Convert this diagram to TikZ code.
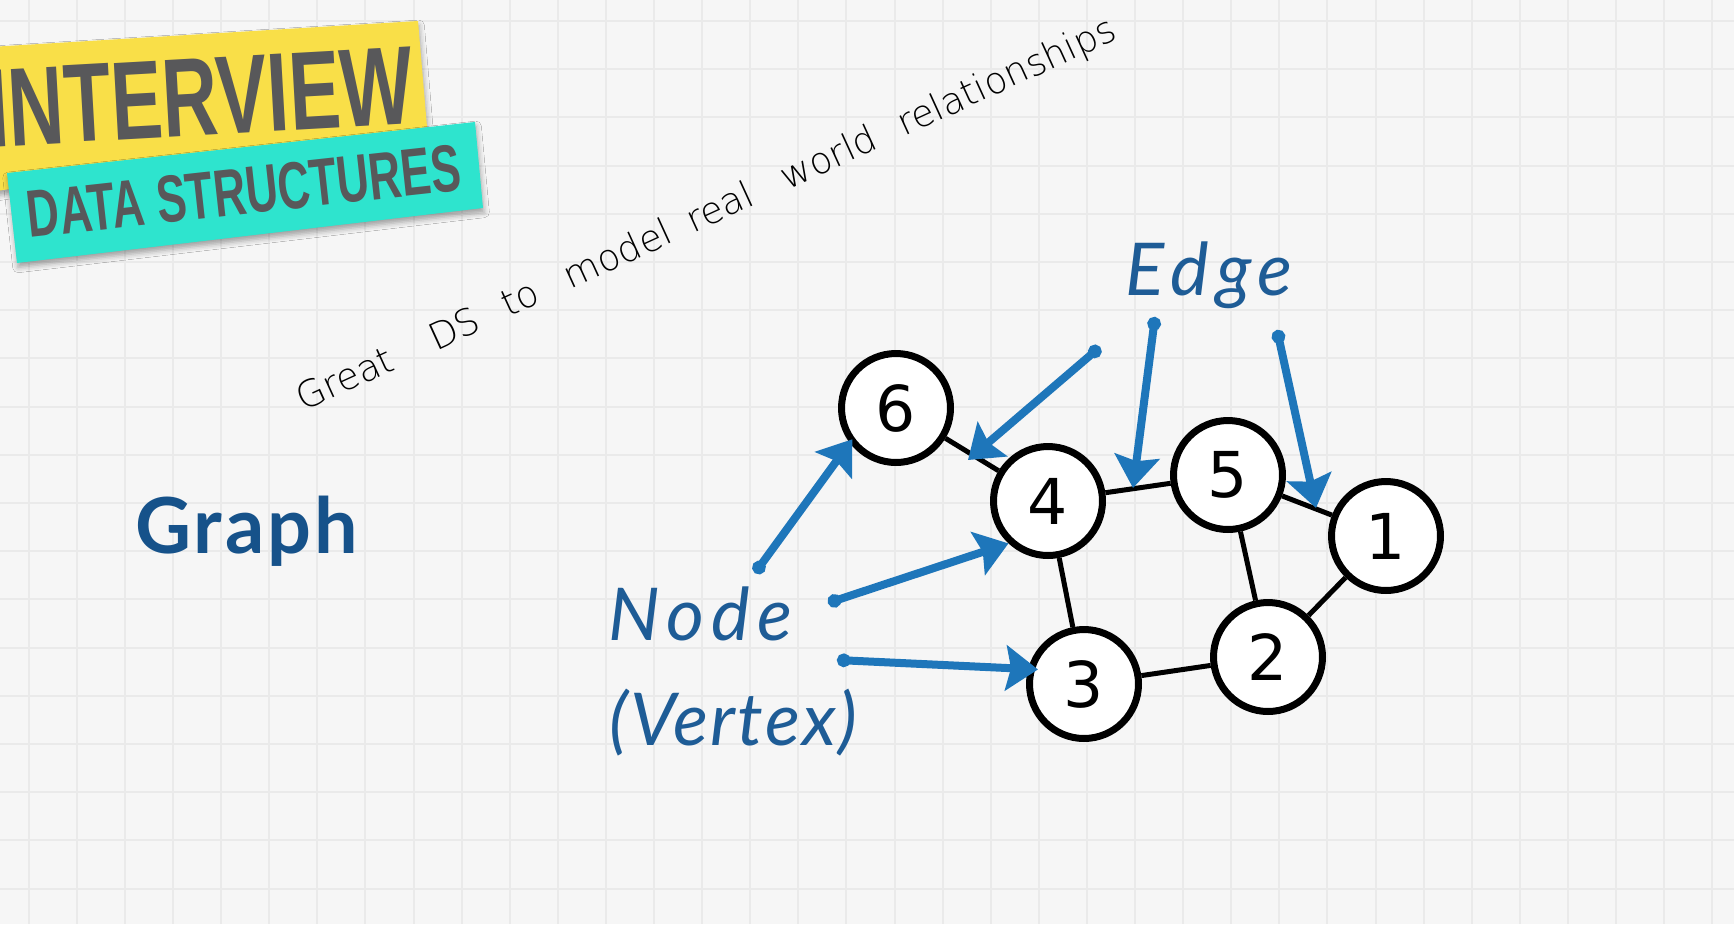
\documentclass[tikz,border=0pt]{standalone}
\usepackage{fontspec}
\usetikzlibrary{arrows.meta,shadows.blur}
\newfontfamily\latofont{Lato}
\newfontfamily\numfont{DejaVu Sans}
\newfontfamily\bannerfont{Liberation Sans}
\newfontfamily\handfont{DejaVu Sans ExtraLight}
\definecolor{paper}{RGB}{246,246,246}
\definecolor{gridcol}{RGB}{234,234,234}
\definecolor{bannerYellow}{RGB}{249,223,72}
\definecolor{bannerTeal}{RGB}{46,228,206}
\definecolor{bannerText}{RGB}{88,88,90}
\definecolor{labelBlue}{RGB}{30,92,150}
\definecolor{titleBlue}{RGB}{22,82,138}
\definecolor{arrowBlue}{RGB}{30,118,186}

\begin{document}
\begin{tikzpicture}[x=0.02cm,y=-0.02cm,
  gridline/.style={draw=gridcol,line width=0.04cm},
  banner/.style={blur shadow={shadow xshift=0.6pt,shadow yshift=-2.5pt,shadow blur radius=3pt,shadow opacity=35}},
  bannertext/.style={inner sep=0pt,text=bannerText,font=\bannerfont\bfseries},
  vertex/.style={circle,draw=black,fill=white,line width=0.14cm,minimum size=2.18cm,inner sep=0pt,
    font=\numfont\fontsize{36}{40}\selectfont},
  link/.style={draw=black,line width=0.1cm},
  pointer/.style={draw=arrowBlue,line width=0.16cm,line cap=round,
    {Circle[length=0.27cm]}-{Stealth[length=0.64cm,width=0.9cm,inset=0.1cm]}},
  caption/.style={anchor=base west,inner sep=0pt,text=labelBlue,
    font=\latofont\itshape\fontsize{41.5}{48}\selectfont\addfontfeatures{LetterSpace=#1}}
]
\useasboundingbox (0,0) rectangle (1734,924);

% squared paper
\fill[paper] (0,0) rectangle (1734,924);
\foreach \i in {0,...,35}
  \draw[gridline] ({28.7+48.1*\i},0) -- ({28.7+48.1*\i},924);
\foreach \j in {0,...,18}
  \draw[gridline] (0,{21+48.2*\j}) -- (1734,{21+48.2*\j});

% title banners
\fill[bannerYellow,banner] (-10,47) -- (418,21) -- (427,127) -- (-10,192) -- cycle;
\node[bannertext,rotate=3.2] (interview) at (200,97)
  {\fontsize{63.5}{70}\selectfont\scalebox{0.69}[1]{INTERVIEW}};
\fill[bannerTeal,banner] (7,173) -- (475,122) -- (483,208) -- (17,263) -- cycle;
\node[bannertext,rotate=6.3] (datastruct) at (244,191)
  {\fontsize{38}{42}\selectfont\scalebox{0.67}[1]{DATA STRUCTURES}};

% handwritten note
\node[anchor=base west,inner sep=0pt,rotate=24.6,font=\handfont\fontsize{21}{24}\selectfont]
  (note) at (303,412)
  {\makebox[2.92cm][l]{Great}\makebox[1.6cm][l]{DS}\makebox[1.36cm][l]{to}%
   \makebox[2.7cm][l]{model}\makebox[2.08cm][l]{real}\makebox[2.56cm][l]{world}relationships};

% title
\node[anchor=base west,inner sep=0pt,text=titleBlue,
  font=\latofont\bfseries\fontsize{44}{50}\selectfont\addfontfeatures{LetterSpace=4}]
  (title) at (135,553) {Graph};

% labels
\node[caption=10] (edgelabel) at (1125,295) {Edge};
\node[caption=10] (nodelabel) at (608,640) {Node};
\node[caption=3] (vertexlabel) at (609,745) {(Vertex)};

% graph vertices
\node[vertex] (n6) at (896,408) {6};
\node[vertex] (n4) at (1048,501) {4};
\node[vertex] (n5) at (1228,475) {5};
\node[vertex] (n1) at (1386,536) {1};
\node[vertex] (n2) at (1268,657) {2};
\node[vertex] (n3) at (1084,684) {3};

% graph edges
\draw[link] (n6) -- (n4);
\draw[link] (n4) -- (n5);
\draw[link] (n5) -- (n1);
\draw[link] (n4) -- (n3);
\draw[link] (n5) -- (n2);
\draw[link] (n1) -- (n2);
\draw[link] (n3) -- (n2);

% pointer ends
\coordinate (s1) at (1100,347);
\coordinate (s2) at (1155,317);
\coordinate (s3) at (1277,330);
\coordinate (s4) at (755,573);
\coordinate (s5) at (828,603);
\coordinate (s6) at (837,660);
\coordinate (e64) at (968,460);
\coordinate (e45) at (1133,488);
\coordinate (e51) at (1316,508);

% pointers to edges
\draw[pointer] (s1) -- (e64);
\draw[pointer] (s2) -- (e45);
\draw[pointer] (s3) -- (e51);
% pointers to vertices
\draw[pointer,shorten >=-0.09cm] (s4) -- (n6.217);
\draw[pointer] (s5) -- (n4.227);
\draw[pointer,shorten >=-0.2cm] (s6) -- (n3.165);
\end{tikzpicture}
\end{document}
